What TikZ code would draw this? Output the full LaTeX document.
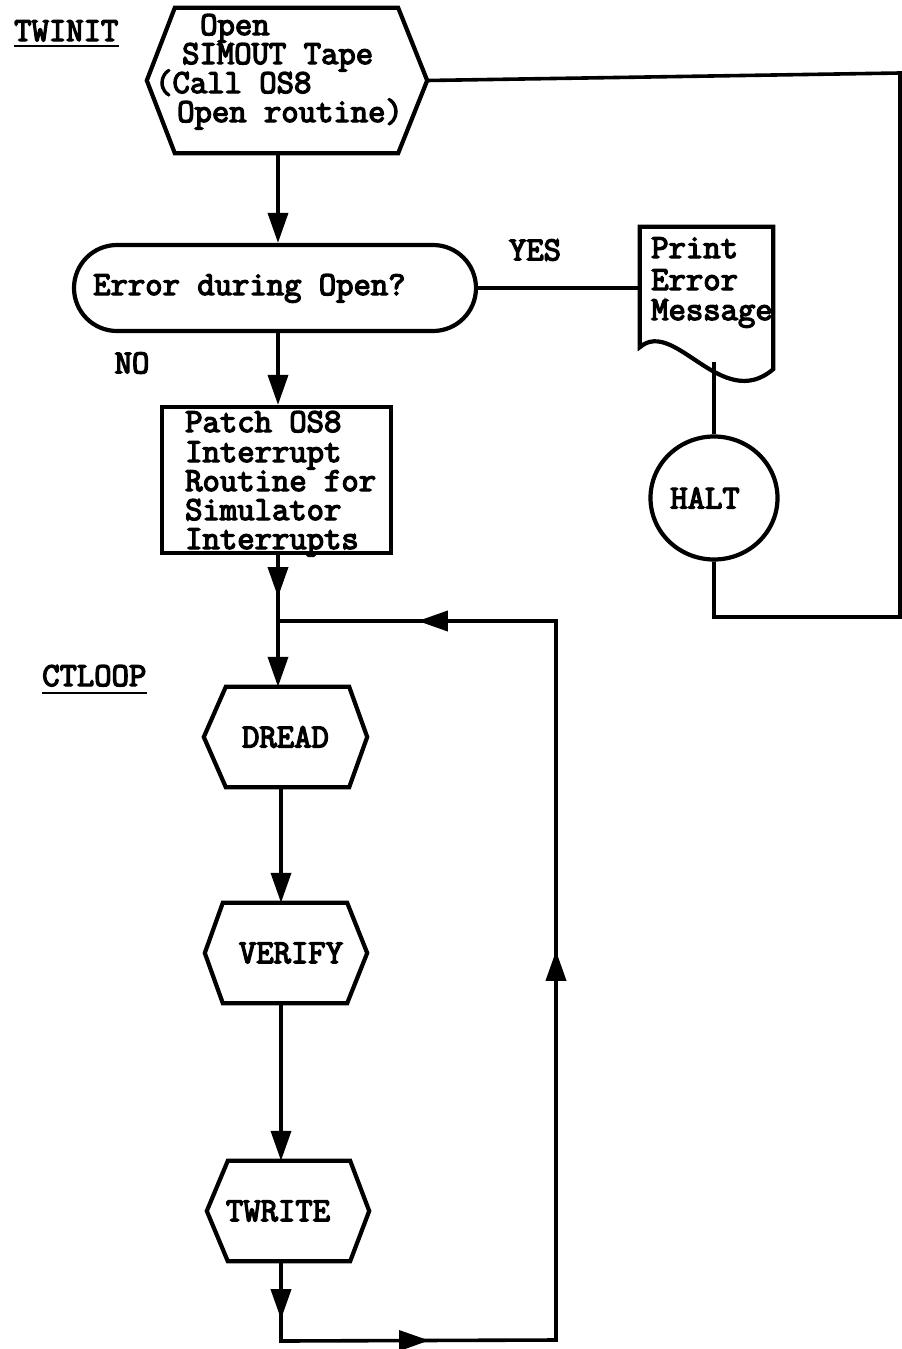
\documentclass[tikz,border=0pt]{standalone}
\usepackage{fontspec}
\newfontfamily\tw[FakeBold=4]{Latin Modern Mono}
\usetikzlibrary{calc,arrows.meta,shapes.misc,shapes.geometric,decorations.markings}
\newcommand{\twtext}{\tw\fontsize{33.7}{30}\selectfont}
\newcommand{\hexo}[3]{\draw[shp] ($(#1.north west)+(#2,0)$) -- ($(#1.north east)+(-#3,0)$) -- (#1.east) -- ($(#1.south east)+(-#3,0)$) -- ($(#1.south west)+(#2,0)$) -- (#1.west) -- cycle;}
\begin{document}
\begin{tikzpicture}[x=1pt,y=-1pt,
  conn/.style={line width=3.6pt},
  shp/.style={line width=4.2pt},
  tri/.style={-{Triangle[length=30pt,width=20pt]}},
  box/.style={draw=none, inner sep=0pt, font=\twtext},
  txt/.style={inner sep=0pt, font=\twtext, anchor=base west, text height=20pt, text depth=5pt},
  lbl/.style={inner sep=0pt, font=\twtext},
]
\fill[white] (0,0) rectangle (902,1349);
\useasboundingbox (0,0) rectangle (902,1349);

% labels
\node[txt] (twinit) at (14,41) {TWINIT};
\draw[line width=2.8pt] ($(twinit.base west)+(0,5)$) -- ($(twinit.base east)+(0,5)$);
\node[txt] (ctloop) at (42,686) {CTLOOP};
\draw[line width=2.8pt] ($(ctloop.base west)+(0,7)$) -- ($(ctloop.base east)+(0,7)$);

% top hexagon
\node[box, minimum width=280pt, minimum height=145pt] (open) at (287,80.5) {};
\hexo{open}{28}{29}
\node[txt] (o1) at (200,35) {Open};
\node[txt] (o2) at (182,64) {SIMOUT Tape};
\node[txt] (o3) at (155,93) {(Call OS8};
\node[txt] (o4) at (177,122) {Open routine)};

% decision
\node[draw, shp, rounded rectangle, minimum width=402pt, minimum height=86pt, inner sep=0pt] (err) at (275,288) {};
\node[txt] (errtxt) at (93,295) {Error during Open?};
\node[lbl] (yes) at (535,250) {YES};
\node[lbl] (no) at (132,363) {NO};

% document
\node[box, minimum width=133pt, minimum height=120pt] (doc) at (706.5,287) {};
\draw[shp] (doc.south west) -- (doc.north west) -- (doc.north east) -- ($(doc.south east)+(0,22)$) .. controls ($(doc.south west)+(82,66)$) and ($(doc.south west)+(35,-30)$) .. (doc.south west) -- cycle;
\node[txt] (d1) at (651,258) {Print};
\node[txt] (d2) at (651,290) {Error};
\node[txt] (d3) at (651,320) {Message};

% halt
\node[draw, shp, ellipse, minimum width=127pt, minimum height=123pt, inner sep=0pt, font=\twtext] (halt) at (714,498) {HALT\hspace*{18pt}};

% patch box
\node[box, draw, shp, minimum width=229pt, minimum height=146pt] (patch) at (276.5,480) {};
\node[txt] (p1) at (185,432) {Patch OS8};
\node[txt] (p2) at (185,462) {Interrupt};
\node[txt] (p3) at (185,491) {Routine for};
\node[txt] (p4) at (185,520) {Simulator};
\node[txt] (p5) at (185,549) {Interrupts};

% loop hexagons
\node[box, minimum width=163pt, minimum height=100pt] (dread) at (285.5,737) {DREAD};
\hexo{dread}{22}{18}
\node[box, minimum width=162pt, minimum height=100pt] (verify) at (286,953) {\hspace*{10pt}VERIFY};
\hexo{verify}{18}{20}
\node[box, minimum width=162pt, minimum height=100pt] (twrite) at (288,1211) {TWRITE\hspace*{20pt}};
\hexo{twrite}{21}{19}

% connectors
\coordinate (colA) at (278,0);
\coordinate (colB) at (281,0);
\coordinate (j1) at (278,621);
\coordinate (rb) at (900,617);
\coordinate (rt) at (900,73);
\coordinate (bl) at (281,1341);
\coordinate (br) at (556,1340);
\coordinate (tr) at (556,621);

\draw[conn] (err.east) -- (err.east -| doc.west);
\draw[conn] (halt.north) -- ++(0,-72);
\draw[conn] (halt.south) |- (rb) -- (rt) -- (open.east);

\draw[conn,tri] (open.south -| colA) -- (err.north -| colA);
\draw[conn,tri] (err.south -| colA) -- (patch.north -| colA);
\draw[conn,tri,postaction={decorate},
  decoration={markings, mark=at position 42pt with {\arrow{Triangle[length=30pt,width=20pt]}}}]
  (patch.south -| colA) -- (j1) -- (dread.north -| colA);
\draw[conn,tri] (dread.south -| colB) -- (verify.north -| colB);
\draw[conn,tri] (verify.south -| colB) -- (twrite.north -| colB);
\draw[conn,line join=miter,postaction={decorate},
  decoration={markings,
    mark=at position 58pt with {\arrow{Triangle[length=30pt,width=20pt]}},
    mark=at position 228pt with {\arrow{Triangle[length=30pt,width=20pt]}},
    mark=at position 744pt with {\arrow{Triangle[length=30pt,width=20pt]}},
    mark=at position 1212pt with {\arrow{Triangle[length=30pt,width=20pt]}}}]
  (twrite.south -| colB) -- (bl) -- (br) -- (tr) -- (j1);
\end{tikzpicture}
\end{document}
